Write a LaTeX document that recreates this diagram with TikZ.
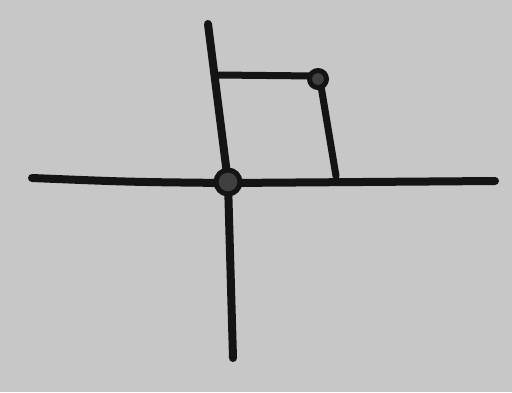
\documentclass[tikz,border=0pt]{standalone}
\begin{document}
\begin{tikzpicture}[x=1pt,y=-1pt,
  ink/.style={line width=8pt,line cap=round,line join=round,color=black!92},
  dot/.style={circle,draw=black!92,line width=5pt,fill=black!75,inner sep=0pt},
]
\fill[black!22] (0,0) rectangle (512,392);
\useasboundingbox (0,0) rectangle (512,392);
\coordinate (ytop) at (208,24);
\coordinate (ybot) at (233,358);
\coordinate (xl) at (32,178);
\coordinate (xr) at (495,181);
\coordinate (yp) at (218,75);
\coordinate (xp) at (336,176);
\draw[ink] (xl) .. controls (130,182) .. (228,183) -- (xr);
\draw[ink] (ytop) -- (228,182) -- (ybot);
\draw[ink,line width=7pt] (yp) -- (316,76);
\draw[ink,line width=7pt] (320,80) -- (xp);
\node[dot,minimum size=24pt] (O) at (228,182) {};
\node[dot,minimum size=17pt] (P) at (318,79) {};
\end{tikzpicture}
\end{document}
